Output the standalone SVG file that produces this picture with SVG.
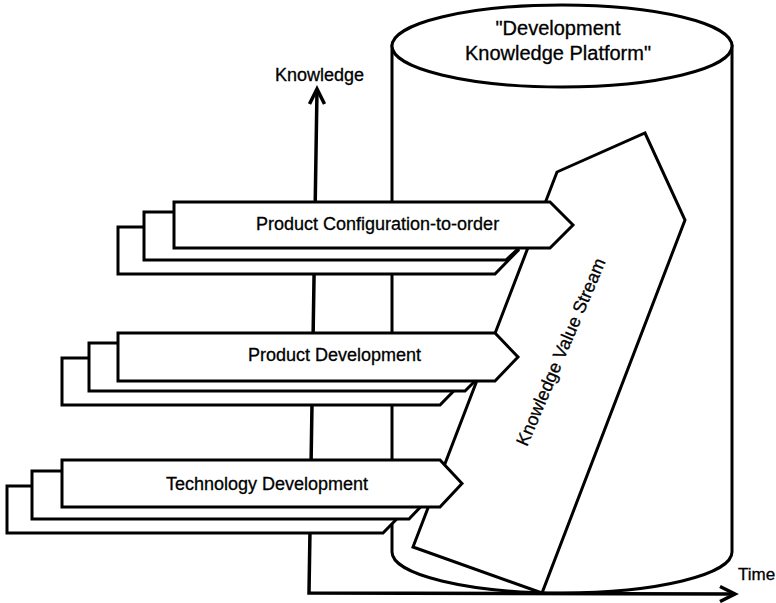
<svg xmlns="http://www.w3.org/2000/svg" width="776" height="603" viewBox="0 0 776 603">
  <style>
    .shape { fill: #ffffff; stroke: #000000; stroke-width: 3; stroke-linejoin: miter; }
    .axis { fill: none; stroke: #000000; stroke-width: 3.5; stroke-linecap: butt; }
    .head { fill: none; stroke: #000000; stroke-width: 3.5; stroke-linejoin: miter; }
    .lbl { font-family: "Liberation Sans", Arial, sans-serif; font-size: 18px; fill: #000000; stroke: #000000; stroke-width: 0.3; }
    .mid { text-anchor: middle; }
  </style>

  <!-- knowledge platform cylinder -->
  <g id="platform">
    <path class="shape" d="M392,46 L392,552 A170,41 0 0 0 732,552 L732,46 Z"/>
    <ellipse class="shape" cx="562" cy="46" rx="170" ry="41"/>
    <text class="lbl mid" x="558" y="35" style="font-size:20px">"Development</text>
    <text class="lbl mid" x="558" y="60" style="font-size:20px">Knowledge Platform"</text>
  </g>

  <!-- axes -->
  <g id="connectors">
    <path class="axis" d="M317,90 L309,593 L733,594"/>
    <path class="head" d="M309.5,104 L317,89 L324.5,104"/>
    <path class="head" d="M720,586.5 L735,594 L720,601.5"/>
  </g>
  <text class="lbl" x="275" y="81">Knowledge</text>
  <text class="lbl" x="738" y="580" style="font-size:17px">Time</text>

  <!-- rear layers of the three streams -->
  <g id="stream-layers-back">
    <polygon class="shape" points="118,227 495,227 518,250.5 495,274 118,274"/>
    <polygon class="shape" points="144,212 506,212 532,236 506,260 144,260"/>
    <polygon class="shape" points="62,358 440,358 463,381.5 440,405 62,405"/>
    <polygon class="shape" points="89,343 465,343 489,367 465,391 89,391"/>
    <polygon class="shape" points="7,486 383,486 406,509.5 383,533 7,533"/>
    <polygon class="shape" points="32,471 409,471 432,495 409,519 32,519"/>
  </g>

  <!-- knowledge value stream -->
  <g id="value-stream">
    <polygon class="shape" points="413,547 542,593 685,220 645,133 557,172"/>
    <text class="lbl mid" transform="translate(561,352) rotate(-67)" y="6">Knowledge Value Stream</text>
  </g>

  <!-- front layers -->
  <g id="product-configuration">
    <polygon class="shape" points="174,202 550,202 573,225 550,248 174,248"/>
    <text class="lbl" x="256" y="230">Product Configuration-to-order</text>
  </g>
  <g id="product-development">
    <polygon class="shape" points="118,333 495,333 518,357 495,381 118,381"/>
    <text class="lbl" x="248" y="361">Product Development</text>
  </g>
  <g id="technology-development">
    <polygon class="shape" points="62,460 440,460 462,483.5 440,507 62,507"/>
    <text class="lbl" x="166" y="490">Technology Development</text>
  </g>
</svg>
